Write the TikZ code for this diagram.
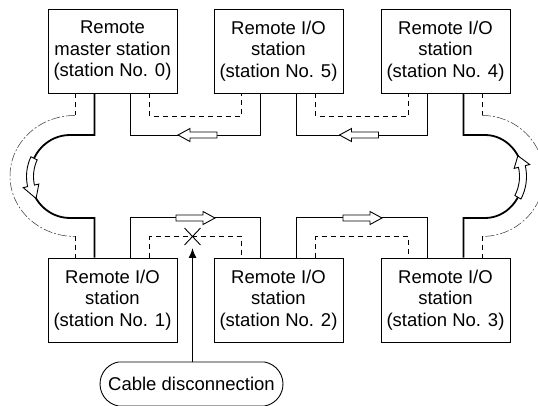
\documentclass[tikz,border=0pt]{standalone}
\usepackage{fontspec}
\setmainfont{Liberation Sans}
\usetikzlibrary{shapes.misc,arrows.meta}
\begin{document}
\begin{tikzpicture}[x=1pt,y=-1pt,
  station/.style={draw, line width=0.9pt, fill=white, minimum width=129, minimum height=84, inner sep=0pt, align=center, font=\fontsize{18.5}{21.5}\selectfont},
  cable/.style={line width=1.8pt},
  spare/.style={line width=0.9pt, dash pattern=on 5pt off 4pt},
  chain/.style={line width=0.5pt, dash pattern=on 9pt off 2pt on 2pt off 2pt, black!80},
  hollow/.style={draw, line width=0.9pt, fill=white, line join=miter},
  blockarrow/.pic={\draw[hollow] (-19.5,-3) -- (7.5,-3) -- (7.5,-6.5) -- (19.5,0) -- (7.5,6.5) -- (7.5,3) -- (-19.5,3) -- cycle;}
]
\useasboundingbox (0,0) rectangle (538,405);
\clip (0,0) rectangle (538,405);

% stations
\node[station] (t0) at (112.5,51) {Remote\\master station\\(station No. 0)};
\node[station] (t5) at (278.5,51) {Remote I/O\\station\\(station No. 5)};
\node[station] (t4) at (445.5,51) {Remote I/O\\station\\(station No. 4)};
\node[station] (b1) at (112.5,300) {Remote I/O\\station\\(station No. 1)};
\node[station] (b2) at (278.5,300) {Remote I/O\\station\\(station No. 2)};
\node[station] (b3) at (445.5,300) {Remote I/O\\station\\(station No. 3)};

% main (solid) cables
\draw[cable] ([xshift=18]t0.south) -- ++(0,42) -| ([xshift=-18]t5.south);
\draw[cable] ([xshift=18]t5.south) -- ++(0,42) -| ([xshift=-18]t4.south);
\draw[cable] ([xshift=18]b1.north) -- ++(0,-40) -| ([xshift=-18]b2.north);
\draw[cable] ([xshift=18]b2.north) -- ++(0,-40) -| ([xshift=-18]b3.north);
\draw[cable] ([xshift=-18]t0.south) |- (70,135)
  arc[start angle=270, end angle=90, x radius=40, y radius=41.5] -| ([xshift=-18]b1.north);
\draw[cable] ([xshift=18]t4.south) |- (485,135)
  arc[start angle=-90, end angle=90, x radius=38, y radius=41.5] -| ([xshift=18]b3.north);

% spare (dashed) cables
\draw[spare] ([xshift=37]t0.south) -- ++(0,23) -| ([xshift=-37]t5.south);
\draw[spare] ([xshift=37]t5.south) -- ++(0,23) -| ([xshift=-37]t4.south);
\draw[spare] ([xshift=37]b1.north) -- ++(0,-21) -| ([xshift=-37]b2.north);
\draw[spare] ([xshift=37]b2.north) -- ++(0,-21) -| ([xshift=-37]b3.north);
\draw[spare] ([xshift=-37.5]t0.south) -- ++(0,22) coordinate (lt);
\draw[chain] (lt) arc[start angle=270, end angle=90, x radius=65, y radius=60.5] coordinate (lb);
\draw[spare] (lb) -- ([xshift=-37.5]b1.north);
\draw[spare] ([xshift=36.5]t4.south) -- ++(0,22) coordinate (rt);
\draw[chain] (rt) arc[start angle=-90, end angle=90, x radius=62, y radius=60.5] coordinate (rb);
\draw[spare] (rb) -- ([xshift=36.5]b3.north);

% hollow flow arrows
\pic[rotate=180] at (197.5,135) {blockarrow};
\pic[rotate=180] at (359,135) {blockarrow};
\pic at (195.5,218) {blockarrow};
\pic at (362.5,218) {blockarrow};

\begin{scope}[shift={(70,176.5)}]
\draw[hollow] (206:43.5 and 45) arc[start angle=206, end angle=167, x radius=43.5, y radius=45]
  -- (167:48 and 49.5) -- (148:40 and 41.5) -- (167:32 and 33.5) -- (167:36.5 and 38)
  arc[start angle=167, end angle=206, x radius=36.5, y radius=38] -- cycle;
\end{scope}
\begin{scope}[shift={(485,176.5)}]
\draw[hollow] (30:41.5 and 45) arc[start angle=30, end angle=-14, x radius=41.5, y radius=45]
  -- (-14:46 and 49.5) -- (-30:38 and 41.5) -- (-14:30 and 33.5) -- (-14:34.5 and 38)
  arc[start angle=-14, end angle=30, x radius=34.5, y radius=38] -- cycle;
\end{scope}

% disconnection
\node[cross out, draw, line width=0.9pt, minimum width=15, minimum height=16, inner sep=0pt] (xm) at (192.5,236.5) {};
\node[rounded rectangle, rounded rectangle arc length=160, draw, line width=0.9pt, fill=white,
  minimum width=183, minimum height=44, inner sep=0pt, font=\fontsize{18.5}{21.5}\selectfont] (cd) at (191.5,384) {Cable disconnection};
\draw[line width=1.5pt, -{Latex[length=10pt,width=8pt]}] (cd.north -| xm.center) -- ([yshift=-3]xm.south);
\end{tikzpicture}
\end{document}
